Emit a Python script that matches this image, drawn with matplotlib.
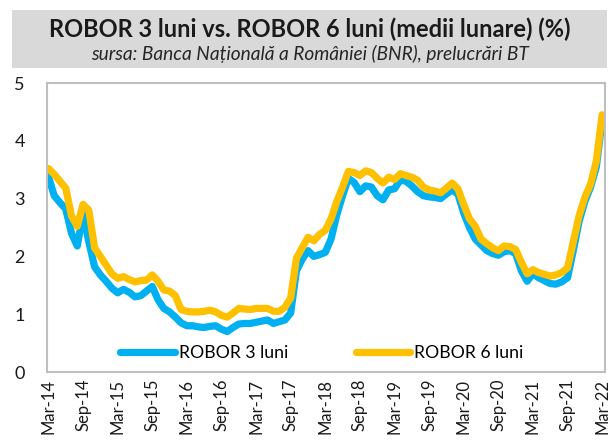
import matplotlib
matplotlib.use("Agg")
import matplotlib.pyplot as plt
from matplotlib.patches import Rectangle

plt.rcParams['font.family'] = ['Lato', 'DejaVu Sans']

# monthly averages, Mar-14 .. Mar-22
robor_3m = [3.38, 3.05, 2.93, 2.82, 2.40, 2.18, 2.74, 2.25, 1.82, 1.68,
            1.57, 1.45, 1.37, 1.43, 1.38, 1.30, 1.32, 1.40, 1.48, 1.25,
            1.10, 1.04, 0.95, 0.85, 0.80, 0.80, 0.78, 0.77, 0.79, 0.80,
            0.74, 0.70, 0.77, 0.83, 0.84, 0.84, 0.86, 0.88, 0.90, 0.84,
            0.87, 0.90, 1.02, 1.75, 1.95, 2.10, 2.00, 2.03, 2.07, 2.30,
            2.72, 3.05, 3.35, 3.28, 3.12, 3.22, 3.20, 3.05, 2.98, 3.15,
            3.17, 3.32, 3.30, 3.22, 3.12, 3.05, 3.03, 3.02, 3.00, 3.08,
            3.15, 3.08, 2.75, 2.50, 2.30, 2.20, 2.10, 2.05, 2.02, 2.08,
            2.10, 2.05, 1.75, 1.57, 1.70, 1.63, 1.58, 1.53, 1.52, 1.56,
            1.63, 2.10, 2.60, 2.95, 3.20, 3.55, 4.36]
robor_6m = [3.52, 3.42, 3.30, 3.18, 2.70, 2.52, 2.90, 2.80, 2.15, 2.00,
            1.85, 1.70, 1.62, 1.65, 1.60, 1.56, 1.58, 1.59, 1.68, 1.57,
            1.42, 1.40, 1.32, 1.08, 1.05, 1.04, 1.04, 1.05, 1.07, 1.04,
            0.98, 0.95, 1.02, 1.10, 1.09, 1.08, 1.10, 1.10, 1.10, 1.05,
            1.05, 1.12, 1.28, 1.97, 2.15, 2.33, 2.27, 2.38, 2.45, 2.65,
            2.95, 3.20, 3.47, 3.45, 3.40, 3.48, 3.45, 3.35, 3.27, 3.37,
            3.33, 3.43, 3.40, 3.37, 3.32, 3.20, 3.15, 3.13, 3.10, 3.18,
            3.27, 3.17, 2.90, 2.65, 2.52, 2.30, 2.22, 2.15, 2.10, 2.18,
            2.17, 2.12, 1.90, 1.70, 1.77, 1.72, 1.69, 1.66, 1.68, 1.72,
            1.80, 2.25, 2.70, 3.02, 3.25, 3.65, 4.45]
tick_labels = ["Mar-14", "Sep-14", "Mar-15", "Sep-15", "Mar-16", "Sep-16",
               "Mar-17", "Sep-17", "Mar-18", "Sep-18", "Mar-19", "Sep-19",
               "Mar-20", "Sep-20", "Mar-21", "Sep-21", "Mar-22"]

months = list(range(len(robor_3m)))

fig = plt.figure(figsize=(6.09, 4.40), dpi=100)

# grey title band
fig.patches.append(Rectangle((12 / 609, 1 - 68 / 440), 595 / 609, 58 / 440,
                             transform=fig.transFigure, facecolor='#d9d9d9',
                             edgecolor='none', zorder=0))
fig.text(310 / 609, 1 - 29 / 440, "ROBOR 3 luni vs. ROBOR 6 luni (medii lunare) (%)",
         ha='center', va='center', fontsize=17, fontweight='bold', color='#1a1a1a')
fig.text(310 / 609, 1 - 54 / 440, "sursa: Banca Națională a României (BNR), prelucrări BT",
         ha='center', va='center', fontsize=13.8, style='italic', color='#262626')

ax = fig.add_axes([47 / 609, 1 - 372 / 440, 558 / 609, 289 / 440])
ax.plot(months, robor_3m, color='#00b0f0', lw=5.2, solid_joinstyle='round',
        solid_capstyle='round', label='ROBOR 3 luni')
ax.plot(months, robor_6m, color='#ffc000', lw=5.2, solid_joinstyle='round',
        solid_capstyle='round', label='ROBOR 6 luni')

ax.set_xlim(-0.25, 96.5)
ax.set_ylim(0, 5)
ax.set_yticks([0, 1, 2, 3, 4, 5])
ax.set_xticks(months[::6])
ax.set_xticklabels(tick_labels, rotation=90)
ax.tick_params(axis='both', length=0, labelsize=13, colors='#1a1a1a')
ax.tick_params(axis='y', pad=16)
ax.tick_params(axis='x', pad=5, labelsize=12)
for s in ax.spines.values():
    s.set_color('#bfbfbf')
    s.set_linewidth(1.5)

ax.legend(loc='center', bbox_to_anchor=(0.493, 0.066), ncol=2, frameon=False,
          fontsize=12.7, handlelength=3.1, handletextpad=0.23, columnspacing=3.8,
          borderaxespad=0)

fig.savefig('out.png', dpi=100)
